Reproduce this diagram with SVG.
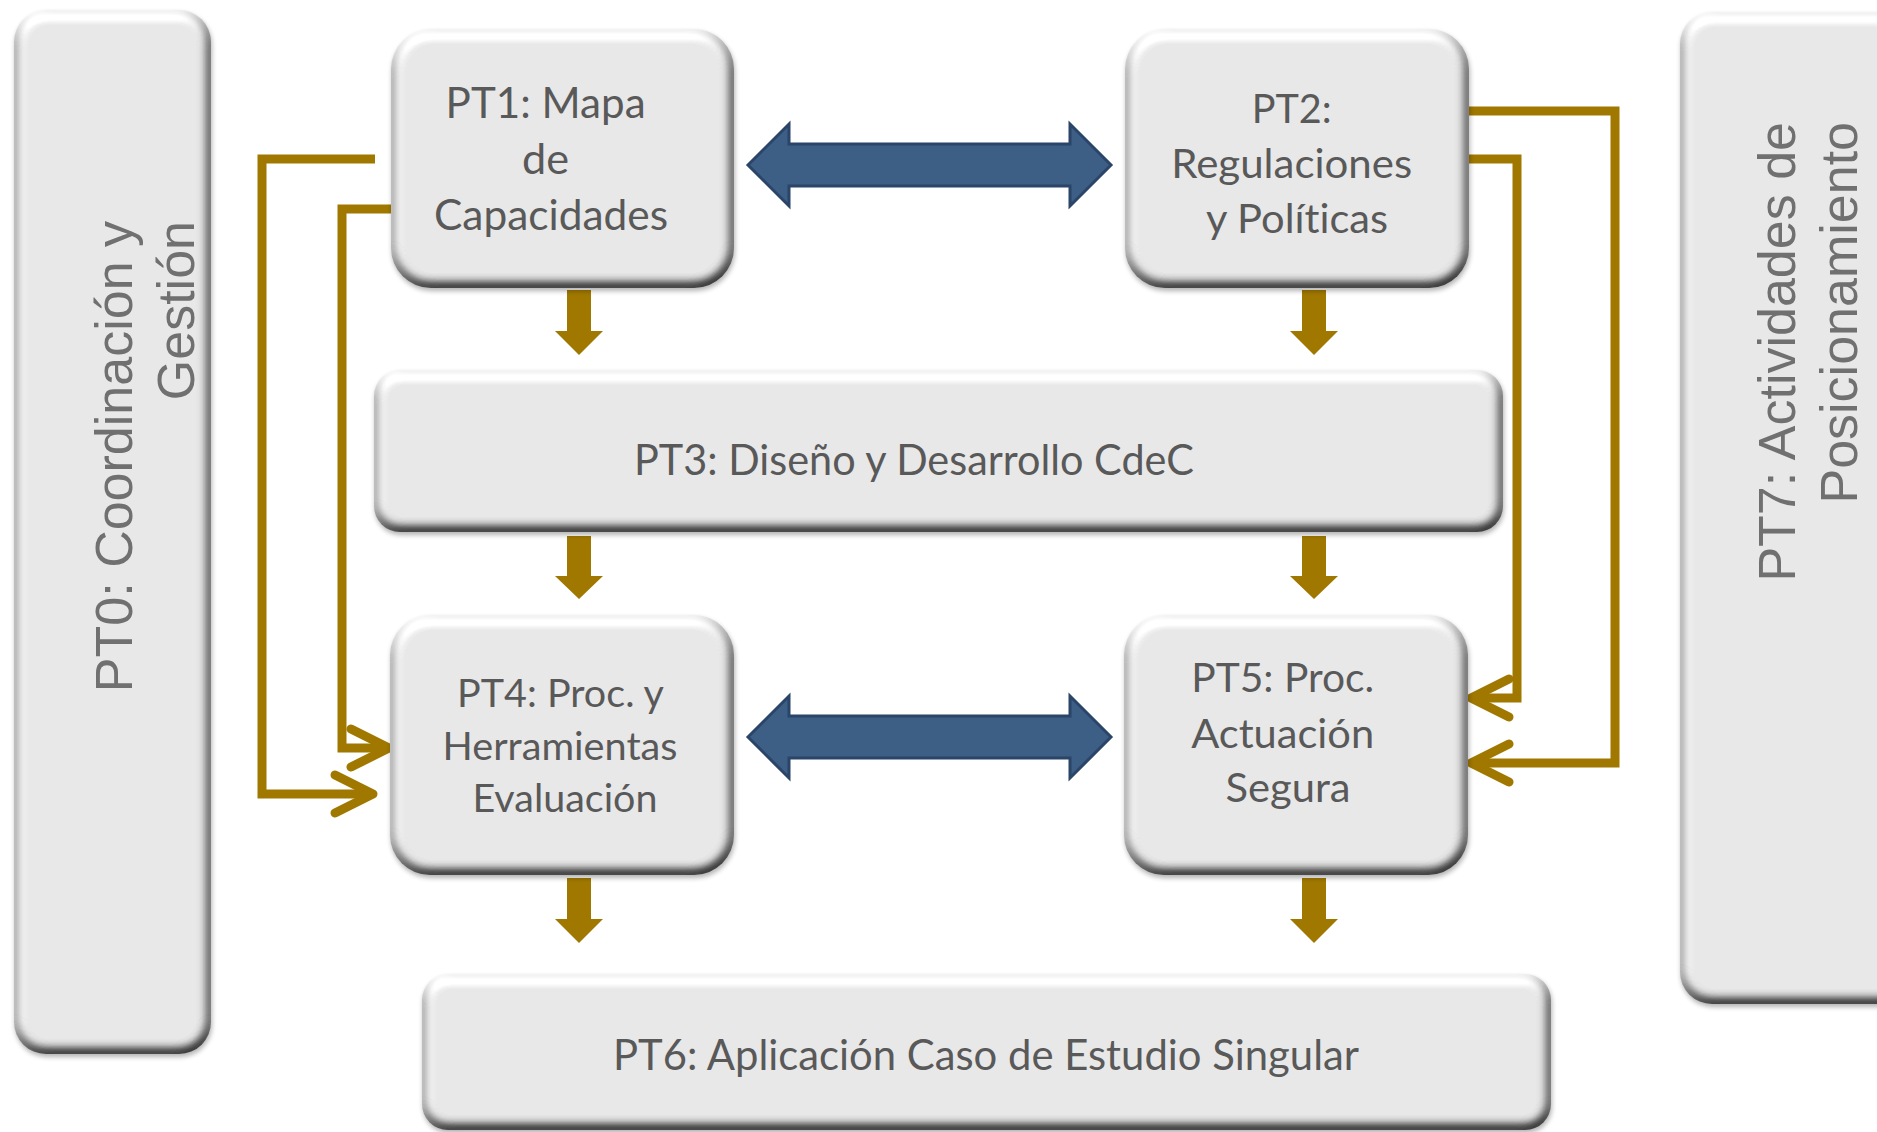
<svg xmlns="http://www.w3.org/2000/svg" width="1877" height="1132" viewBox="0 0 1877 1132">
  <defs>
    <filter id="bevel" x="-5%" y="-5%" width="110%" height="115%" color-interpolation-filters="sRGB">
      <feGaussianBlur in="SourceAlpha" stdDeviation="2.5" result="sh0"/>
      <feOffset in="sh0" dx="1" dy="3" result="sh1"/>
      <feComponentTransfer in="sh1" result="sh">
        <feFuncA type="linear" slope="0.3"/>
      </feComponentTransfer>
      <feGaussianBlur in="SourceAlpha" stdDeviation="6" result="blur"/>
      <feDiffuseLighting in="blur" surfaceScale="8" diffuseConstant="1.03" lighting-color="#ffffff" result="light">
        <feDistantLight azimuth="250" elevation="62"/>
      </feDiffuseLighting>
      <feComposite in="light" in2="SourceAlpha" operator="in" result="lit"/>
      <feMerge>
        <feMergeNode in="sh"/>
        <feMergeNode in="lit"/>
      </feMerge>
    </filter>
    <marker id="chev" markerUnits="userSpaceOnUse" orient="auto" markerWidth="1" markerHeight="1" refX="0" refY="0" style="overflow:visible">
      <path d="M-33,-19 L5,0 L-33,19" fill="none" stroke="#a07800" stroke-width="9" stroke-linecap="round" stroke-linejoin="round"/>
    </marker>
    <style>
      .box { fill: #e6e6e6; filter: url(#bevel); }
      .lbl { font-family: Lato, "Open Sans", sans-serif; fill: #595959; text-anchor: middle; font-variant-ligatures: none; }
      .side { font-family: "Liberation Sans", Arial, sans-serif; font-size: 52px; fill: #707070; text-anchor: end; }
      .link { fill: none; stroke: #a07800; stroke-width: 9; stroke-linejoin: miter; marker-end: url(#chev); }
      .down { fill: #a07800; }
      .dbl { fill: #3d5f86; stroke: #2b4568; stroke-width: 3; }
    </style>
  </defs>

  <g id="connectors">
    <polyline class="link" points="375,159 262,159 262,794 368,794"/>
    <polyline class="link" points="391,209 342,209 342,748 384,748"/>
    <polyline class="link" points="1467,111 1615,111 1615,763 1476,763"/>
    <polyline class="link" points="1467,159 1517,159 1517,698 1476,698"/>
    <polygon class="down" points="567,290 591,290 591,331 603,331 579,355 555,331 567,331"/>
    <polygon class="down" points="1302,290 1326,290 1326,331 1338,331 1314,355 1290,331 1302,331"/>
    <polygon class="down" points="567,536 591,536 591,576 603,576 579,599 555,576 567,576"/>
    <polygon class="down" points="1302,536 1326,536 1326,576 1338,576 1314,599 1290,576 1302,576"/>
    <polygon class="down" points="567,878 591,878 591,919 603,919 579,943 555,919 567,919"/>
    <polygon class="down" points="1302,878 1326,878 1326,919 1338,919 1314,943 1290,919 1302,919"/>
    <polygon class="dbl" points="748,165 789,124 789,144 1070,144 1070,124 1111,165 1070,206 1070,186 789,186 789,206"/>
    <polygon class="dbl" points="748,737 789,696 789,716 1070,716 1070,696 1111,737 1070,778 1070,758 789,758 789,778"/>
  </g>

  <g id="PT0">
    <rect class="box" x="14" y="10" width="197" height="1044" rx="32" ry="32"/>
    <text class="side" transform="translate(0,221) rotate(-90)"><tspan x="0" y="132">PT0: Coordinación y</tspan><tspan x="0" y="194">Gestión</tspan></text>
  </g>

  <g id="PT7">
    <rect class="box" x="1680" y="12" width="240" height="992" rx="32" ry="32"/>
    <text class="side" transform="translate(0,122) rotate(-90)"><tspan x="0" y="1795">PT7: Actividades de</tspan><tspan x="0" y="1857">Posicionamiento</tspan></text>
  </g>

  <g id="PT1">
    <rect class="box" x="391" y="29" width="343" height="259" rx="40" ry="40"/>
    <text class="lbl" font-size="42">
      <tspan x="551" y="118" textLength="200" lengthAdjust="spacingAndGlyphs">PT1: Mapa</tspan>
      <tspan x="551" y="174" textLength="47" lengthAdjust="spacingAndGlyphs">de</tspan>
      <tspan x="551" y="230" textLength="234" lengthAdjust="spacingAndGlyphs">Capacidades</tspan>
    </text>
  </g>

  <g id="PT2">
    <rect class="box" x="1125" y="29" width="344" height="259" rx="40" ry="40"/>
    <text class="lbl" font-size="41.5">
      <tspan x="1297" y="123" textLength="80" lengthAdjust="spacingAndGlyphs">PT2:</tspan>
      <tspan x="1297" y="178" textLength="241" lengthAdjust="spacingAndGlyphs">Regulaciones</tspan>
      <tspan x="1297" y="233" textLength="182" lengthAdjust="spacingAndGlyphs">y Políticas</tspan>
    </text>
  </g>

  <g id="PT3">
    <rect class="box" x="374" y="370" width="1129" height="162" rx="26" ry="26"/>
    <text class="lbl" font-size="42" x="914" y="475" textLength="560" lengthAdjust="spacingAndGlyphs">PT3: Diseño y Desarrollo CdeC</text>
  </g>

  <g id="PT4">
    <rect class="box" x="390" y="615" width="344" height="260" rx="40" ry="40"/>
    <text class="lbl" font-size="39">
      <tspan x="565" y="707" textLength="206" lengthAdjust="spacingAndGlyphs">PT4: Proc. y</tspan>
      <tspan x="565" y="760" textLength="235" lengthAdjust="spacingAndGlyphs">Herramientas</tspan>
      <tspan x="565" y="812" textLength="185" lengthAdjust="spacingAndGlyphs">Evaluación</tspan>
    </text>
  </g>

  <g id="PT5">
    <rect class="box" x="1124" y="615" width="344" height="260" rx="40" ry="40"/>
    <text class="lbl" font-size="41.5">
      <tspan x="1288" y="692" textLength="183" lengthAdjust="spacingAndGlyphs">PT5: Proc.</tspan>
      <tspan x="1288" y="748" textLength="183" lengthAdjust="spacingAndGlyphs">Actuación</tspan>
      <tspan x="1288" y="802" textLength="125" lengthAdjust="spacingAndGlyphs">Segura</tspan>
    </text>
  </g>

  <g id="PT6">
    <rect class="box" x="422" y="974" width="1129" height="156" rx="26" ry="26"/>
    <text class="lbl" font-size="42" x="986" y="1070" textLength="746" lengthAdjust="spacingAndGlyphs">PT6: Aplicación Caso de Estudio Singular</text>
  </g>
</svg>
